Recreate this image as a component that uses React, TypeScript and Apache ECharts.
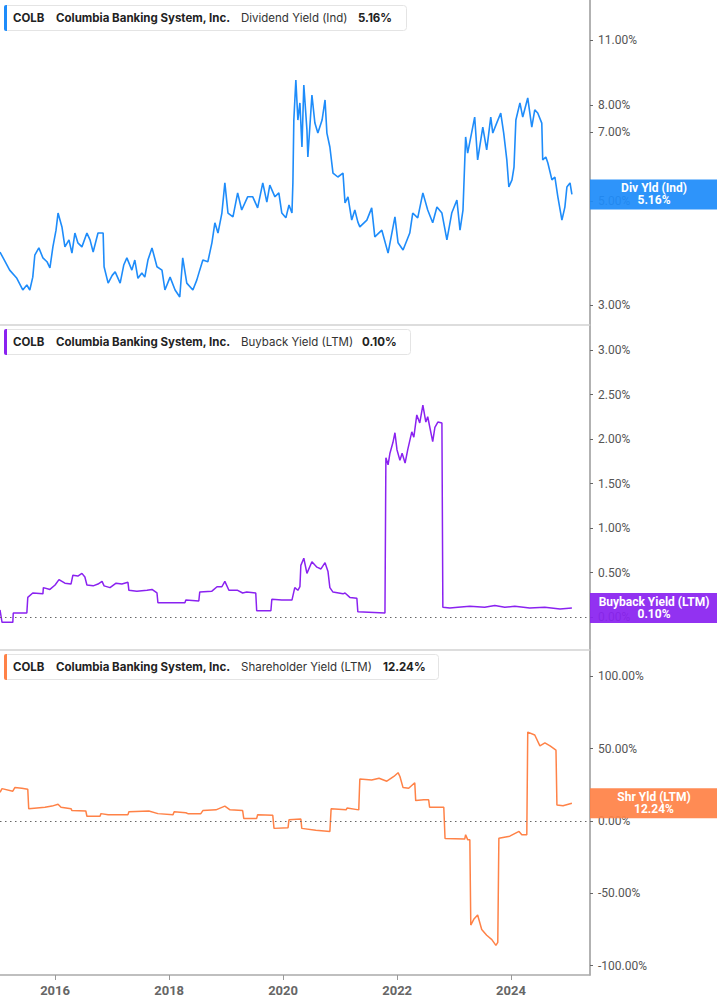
import React, { useEffect, useRef } from 'react';
import * as echarts from 'echarts';

const X_MIN = '2015-01-13';
const X_MAX = '2025-05-21';
const yearTicks = ['2016-01-01', '2018-01-01', '2020-01-01', '2022-01-01', '2024-01-01'];
const divTicks = [3, 5, 7, 8, 11];
const bbTicks = [0, 0.5, 1, 1.5, 2, 2.5, 3];
const shTicks = [-100, -50, 0, 50, 100];

const dividendYield: [string, number][] = [
  ['2015-01-13',3.89],['2015-02-15',3.71],['2015-03-16',3.56],['2015-05-01',3.42],['2015-06-08',3.23],['2015-07-04',3.31],['2015-07-23',3.23],['2015-08-11',3.44],['2015-08-24',3.83],['2015-09-19',3.97],['2015-10-15',3.78],['2015-11-10',3.71],['2015-11-29',3.60],['2015-12-18',3.99],['2016-01-07',4.33],['2016-01-20',4.71],['2016-02-14',4.40],['2016-03-04',3.99],['2016-03-30',4.13],['2016-04-18',3.87],['2016-05-07',4.27],['2016-05-26',4.07],['2016-06-21',3.99],['2016-07-23',4.27],['2016-08-12',4.13],['2016-09-01',3.89],['2016-10-02',4.27],['2016-11-04',4.27],['2016-11-10',3.62],['2016-12-06',3.34],['2017-01-01',3.47],['2017-01-20',3.53],['2017-02-21',3.34],['2017-03-16',3.65],['2017-04-05',3.78],['2017-05-07',3.56],['2017-05-26',3.74],['2017-06-15',3.42],['2017-07-10',3.51],['2017-07-29',3.44],['2017-08-18',3.74],['2017-09-13',3.97],['2017-10-15',3.62],['2017-11-16',3.56],['2017-12-05',3.23],['2018-01-07',3.44],['2018-02-08',3.23],['2018-03-10',3.12],['2018-03-29',3.78],['2018-04-24',3.34],['2018-06-02',3.23],['2018-06-27',3.39],['2018-07-16',3.56],['2018-08-05',3.74],['2018-09-06',3.71],['2018-10-02',4.07],['2018-10-21',4.49],['2018-11-10',4.27],['2018-12-05',4.71],['2018-12-24',5.46],['2019-01-13',4.71],['2019-02-14',4.62],['2019-03-16',5.20],['2019-04-11',4.78],['2019-05-19',5.10],['2019-06-21',5.10],['2019-07-22',4.83],['2019-08-24',5.46],['2019-09-19',4.97],['2019-10-08',5.40],['2019-11-10',5.10],['2019-12-05',5.20],['2019-12-24',4.71],['2020-01-19',4.60],['2020-02-08',4.90],['2020-02-27',4.71],['2020-03-04',5.46],['2020-03-10',7.43],['2020-03-23',9.04],['2020-04-05',7.43],['2020-04-18',8.08],['2020-05-01',6.51],['2020-05-13',8.82],['2020-06-02',7.08],['2020-06-08',6.20],['2020-07-04',8.40],['2020-07-23',7.32],['2020-08-11',6.97],['2020-09-07',7.43],['2020-09-26',8.20],['2020-10-08',6.97],['2020-10-27',6.51],['2020-11-16',5.73],['2020-12-17',5.62],['2021-01-19',5.73],['2021-02-01',4.95],['2021-02-20',5.10],['2021-03-16',4.55],['2021-04-05',4.78],['2021-04-24',4.51],['2021-05-07',4.40],['2021-06-21',4.55],['2021-07-22',4.83],['2021-08-11',4.19],['2021-09-25',4.33],['2021-11-04',3.87],['2021-12-18',4.62],['2022-01-07',4.07],['2022-02-08',3.93],['2022-03-23',4.27],['2022-04-11',4.71],['2022-05-13',4.60],['2022-06-15',5.20],['2022-07-16',4.78],['2022-08-17',4.49],['2022-09-13',4.85],['2022-10-15',4.71],['2022-11-16',4.13],['2022-12-17',4.71],['2023-01-19',5.02],['2023-02-08',4.33],['2023-02-27',4.78],['2023-03-16',6.84],['2023-03-29',6.32],['2023-05-13',7.54],['2023-06-01',6.11],['2023-07-04',7.18],['2023-07-29',6.42],['2023-08-24',7.54],['2023-09-06',6.97],['2023-10-01',7.32],['2023-10-27',7.69],['2023-11-15',6.97],['2023-12-05',6.11],['2023-12-18',5.35],['2024-01-07',5.54],['2024-01-20',5.90],['2024-02-01',7.43],['2024-02-27',8.08],['2024-03-16',7.54],['2024-04-17',8.28],['2024-05-13',7.18],['2024-06-01',7.81],['2024-06-20',7.69],['2024-07-16',7.32],['2024-07-22',6.11],['2024-08-11',6.20],['2024-08-24',6.02],['2024-09-19',5.54],['2024-10-08',5.62],['2024-10-27',5.10],['2024-11-22',4.55],['2024-12-11',4.85],['2024-12-24',5.35],['2025-01-13',5.46],['2025-01-25',5.16]
];

const buybackYield: [string, number][] = [
  ['2015-01-13',0.08],['2015-01-26',-0.06],['2015-04-05',-0.06],['2015-04-08',0.045],['2015-07-04',0.045],['2015-07-10',0.22],['2015-08-11',0.27],['2015-10-15',0.26],['2015-10-18',0.33],['2015-11-29',0.31],['2016-01-01',0.36],['2016-01-26',0.42],['2016-03-04',0.38],['2016-04-12',0.37],['2016-04-24',0.47],['2016-05-26',0.46],['2016-06-21',0.49],['2016-07-10',0.45],['2016-07-23',0.36],['2016-09-01',0.35],['2016-10-02',0.37],['2016-10-28',0.40],['2016-11-10',0.35],['2016-12-18',0.33],['2017-01-26',0.38],['2017-03-04',0.37],['2017-04-12',0.39],['2017-04-18',0.30],['2017-06-08',0.29],['2017-08-12',0.30],['2017-09-13',0.31],['2017-10-15',0.27],['2017-10-21',0.16],['2018-01-07',0.16],['2018-04-12',0.16],['2018-04-18',0.19],['2018-07-10',0.18],['2018-07-16',0.28],['2018-10-02',0.29],['2018-11-04',0.34],['2018-12-05',0.34],['2018-12-24',0.40],['2019-01-19',0.30],['2019-03-16',0.30],['2019-04-17',0.27],['2019-05-13',0.28],['2019-07-10',0.27],['2019-07-16',0.07],['2019-10-15',0.07],['2019-10-21',0.20],['2019-12-24',0.19],['2020-02-27',0.19],['2020-03-16',0.33],['2020-04-05',0.30],['2020-04-18',0.34],['2020-04-24',0.58],['2020-05-13',0.66],['2020-06-02',0.49],['2020-07-04',0.62],['2020-08-05',0.56],['2020-08-31',0.54],['2020-09-26',0.61],['2020-10-15',0.51],['2020-10-27',0.33],['2020-11-16',0.28],['2021-01-19',0.26],['2021-02-01',0.27],['2021-03-04',0.22],['2021-04-18',0.21],['2021-04-24',0.06],['2021-10-15',0.045],['2021-10-21',1.79],['2021-11-04',1.71],['2021-11-16',1.84],['2021-12-05',1.96],['2021-12-18',2.07],['2021-12-31',1.88],['2022-01-19',1.76],['2022-02-02',1.84],['2022-02-21',1.73],['2022-03-10',1.88],['2022-04-05',2.08],['2022-04-18',2.02],['2022-05-07',2.27],['2022-05-26',2.18],['2022-06-15',2.38],['2022-07-04',2.19],['2022-07-16',2.25],['2022-08-17',1.97],['2022-08-31',2.13],['2022-09-19',2.19],['2022-10-15',2.18],['2022-10-21',0.11],['2022-12-05',0.10],['2023-01-26',0.11],['2023-04-12',0.12],['2023-07-16',0.11],['2023-09-19',0.13],['2023-11-22',0.11],['2024-01-25',0.12],['2024-04-30',0.10],['2024-08-04',0.11],['2024-11-10',0.09],['2025-01-25',0.10]
];

const shareholderYield: [string, number][] = [
  ['2015-01-13',19.8],['2015-01-26',22.4],['2015-04-05',20.6],['2015-04-18',23.1],['2015-06-02',22.6],['2015-07-10',21.9],['2015-07-16',8.5],['2015-09-07',9.0],['2015-10-28',9.5],['2015-12-12',10.3],['2016-01-20',11.6],['2016-02-08',9.5],['2016-04-12',8.5],['2016-04-18',7.2],['2016-07-16',6.9],['2016-07-23',3.3],['2016-10-15',3.3],['2016-10-21',5.1],['2016-12-06',4.4],['2017-04-12',4.4],['2017-04-18',6.4],['2017-08-24',6.9],['2017-10-21',5.1],['2018-01-26',4.4],['2018-02-02',6.4],['2018-04-18',5.7],['2018-05-01',5.1],['2018-07-23',5.1],['2018-08-05',7.2],['2018-10-28',7.7],['2018-12-24',10.3],['2019-01-26',7.7],['2019-04-17',7.2],['2019-04-24',1.8],['2019-07-16',1.8],['2019-07-22',4.4],['2019-10-27',3.9],['2019-11-04',-5.1],['2020-02-02',-4.6],['2020-02-08',0.8],['2020-04-24',1.3],['2020-04-30',-5.1],['2020-07-29',-6.4],['2020-10-27',-7.2],['2020-11-04',8.5],['2021-02-08',7.7],['2021-02-14',9.0],['2021-04-30',7.7],['2021-05-07',29.0],['2021-07-22',28.3],['2021-09-07',29.6],['2021-10-27',27.5],['2021-12-11',30.8],['2022-01-07',33.4],['2022-01-19',30.8],['2022-02-08',23.1],['2022-03-16',22.6],['2022-04-24',26.5],['2022-04-30',14.1],['2022-06-21',14.7],['2022-07-22',14.7],['2022-07-28',9.5],['2022-10-27',9.5],['2022-11-04',-12.1],['2023-03-10',-12.5],['2023-03-16',-9.5],['2023-03-29',-12.9],['2023-04-12',-12.9],['2023-04-18',-72],['2023-05-07',-68],['2023-06-01',-65],['2023-06-27',-75],['2023-07-29',-79],['2023-08-31',-82],['2023-09-26',-86],['2023-10-08',-84],['2023-10-15',-12],['2023-12-24',-10.5],['2024-02-21',-7.2],['2024-03-10',-9.5],['2024-04-11',-9.5],['2024-04-17',61.5],['2024-06-01',59.5],['2024-07-04',52],['2024-08-05',54],['2024-09-07',52],['2024-10-15',49],['2024-10-21',11],['2024-11-29',10.5],['2025-01-25',12.24]
];

const BLUE = '#1E8CFA';
const PURPLE = '#8A22F0';
const ORANGE = '#FF8247';

const ts = (d: string) => Date.parse(d);

export default function App() {
  const ref = useRef<HTMLDivElement>(null);
  useEffect(() => {
    document.body.style.margin = '0';
    if (!ref.current) return;
    const chart = echarts.init(ref.current, null, { renderer: 'svg' });
    const grids = [
      { left: 0, width: 590, top: 0, height: 325 },
      { left: 0, width: 590, top: 325, height: 325 },
      { left: 0, width: 590, top: 650, height: 325 },
    ];
    const yearTickValues = yearTicks.map(ts);
    const xAxis = [0, 1, 2].map((i) => ({
      type: 'value',
      gridIndex: i,
      min: ts(X_MIN),
      max: ts(X_MAX),
      axisLine: { show: true, onZero: false, lineStyle: { color: i < 2 ? '#d2d2d2' : '#aaaaaa', width: 1.5 } },
      axisTick: { show: i === 2, customValues: yearTickValues, length: 5, lineStyle: { color: '#999' } },
      axisLabel: {
        show: i === 2,
        customValues: yearTickValues,
        formatter: (v: number) => String(new Date(v).getUTCFullYear()),
        color: '#666',
        fontWeight: 'bold',
        fontSize: 13,
        fontFamily: 'Roboto',
        margin: 9,
      },
      splitLine: { show: false },
    }));
    const yCommon = {
      position: 'right',
      axisLine: { show: true, onZero: false, lineStyle: { color: '#999', width: 1.5 } },
      splitLine: { show: false },
    };
    const labelCommon = { color: '#555', fontSize: 12, fontFamily: 'Roboto', margin: 8 };
    const tickCommon = { show: true, length: 3, lineStyle: { color: '#666' } };
    const divTickValues = divTicks.map((v) => Math.log(v));
    const yAxis = [
      {
        ...yCommon, type: 'value', gridIndex: 0,
        min: Math.log(11) - 285 / 204, max: Math.log(11) + 40 / 204,
        axisTick: { ...tickCommon, customValues: divTickValues },
        axisLabel: { ...labelCommon, customValues: divTickValues, formatter: (v: number) => Math.exp(v).toFixed(2) + '%' },
      },
      {
        ...yCommon, type: 'value', gridIndex: 1, min: -33 / 89, max: 292 / 89,
        axisTick: { ...tickCommon, customValues: bbTicks },
        axisLabel: { ...labelCommon, customValues: bbTicks, formatter: (v: number) => v.toFixed(2) + '%' },
      },
      {
        ...yCommon, type: 'value', gridIndex: 2, min: -154 / 1.446, max: 171 / 1.446,
        axisTick: { ...tickCommon, customValues: shTicks },
        axisLabel: { ...labelCommon, customValues: shTicks, formatter: (v: number) => v.toFixed(2) + '%' },
      },
    ];

    const zeroLine = {
      silent: true,
      symbol: 'none',
      label: { show: false },
      lineStyle: { color: '#666', type: [1.5, 3.5], width: 1 },
      data: [{ yAxis: 0 }],
    };
    const option: any = {
      animation: false,
      grid: grids,
      xAxis,
      yAxis,
      series: [
        {
          type: 'line', xAxisIndex: 0, yAxisIndex: 0, symbol: 'none',
          data: dividendYield.map(([d, v]) => [ts(d), Math.log(v)]),
          lineStyle: { color: BLUE, width: 1.6 }, itemStyle: { color: BLUE },
        },
        {
          type: 'line', xAxisIndex: 1, yAxisIndex: 1, symbol: 'none',
          data: buybackYield.map(([d, v]) => [ts(d), v]),
          lineStyle: { color: PURPLE, width: 1.5 }, itemStyle: { color: PURPLE },
          markLine: zeroLine,
        },
        {
          type: 'line', xAxisIndex: 2, yAxisIndex: 2, symbol: 'none',
          data: shareholderYield.map(([d, v]) => [ts(d), v]),
          lineStyle: { color: ORANGE, width: 1.5 }, itemStyle: { color: ORANGE },
          markLine: zeroLine,
        },
      ],
    };
    chart.setOption(option);

    const F_BOLD = 'bold 11.5px Inter';
    const F_REG = '11.5px Inter';
    const header = (y0: number, w: number, color: string, metric: string, value: string, valueX: number) => [
      { type: 'rect', z: 50, shape: { x: 4.5, y: y0 + 0.5, width: w, height: 25, r: 3 }, style: { fill: '#fff', stroke: '#e4e4e4', lineWidth: 1 } },
      { type: 'rect', z: 51, shape: { x: 4, y: y0, width: 3, height: 26, r: [2, 0, 0, 2] }, style: { fill: color } },
      { type: 'text', z: 52, x: 13, y: y0 + 13, style: { text: 'COLB', fill: '#222', font: F_BOLD, verticalAlign: 'middle' } },
      { type: 'text', z: 52, x: 56, y: y0 + 13, style: { text: 'Columbia Banking System, Inc.', fill: '#222', font: F_BOLD, verticalAlign: 'middle' } },
      { type: 'text', z: 52, x: 241, y: y0 + 13, style: { text: metric, fill: '#333', font: F_REG, verticalAlign: 'middle' } },
      { type: 'text', z: 52, x: valueX, y: y0 + 13, style: { text: value, fill: '#222', font: F_BOLD, verticalAlign: 'middle' } },
    ];
    const endBox = (i: number, pt: [string, number], yv: number, color: string, name: string) => {
      const p = chart.convertToPixel({ xAxisIndex: i, yAxisIndex: i }, [ts(pt[0]), yv]) as number[];
      const cy = p[1];
      return [
        { type: 'rect', z: 60, shape: { x: 590, y: cy - 15, width: 127, height: 30 }, style: { fill: color, opacity: 0.93 } },
        { type: 'text', z: 61, x: 654, y: cy - 6, style: { text: name, fill: '#fff', font: 'bold 12px Roboto', align: 'center', verticalAlign: 'middle' } },
        { type: 'text', z: 61, x: 654, y: cy + 6, style: { text: pt[1].toFixed(2) + '%', fill: '#fff', font: 'bold 12px Roboto', align: 'center', verticalAlign: 'middle' } },
      ];
    };
    const lastDiv = dividendYield[dividendYield.length - 1];
    const lastBb = buybackYield[buybackYield.length - 1];
    const lastSh = shareholderYield[shareholderYield.length - 1];
    chart.setOption({
      graphic: [
        ...header(5, 402, BLUE, 'Dividend Yield (Ind)', lastDiv[1].toFixed(2) + '%', 358),
        ...header(329, 406, PURPLE, 'Buyback Yield (LTM)', lastBb[1].toFixed(2) + '%', 362),
        ...header(654, 434, ORANGE, 'Shareholder Yield (LTM)', lastSh[1].toFixed(2) + '%', 383),
        ...endBox(0, lastDiv, Math.log(lastDiv[1]), BLUE, 'Div Yld (Ind)'),
        ...endBox(1, lastBb, lastBb[1], PURPLE, 'Buyback Yield (LTM)'),
        ...endBox(2, lastSh, lastSh[1], ORANGE, 'Shr Yld (LTM)'),
      ],
    });
    return () => chart.dispose();
  }, []);
  return <div ref={ref} style={{ width: 717, height: 1005 }} />;
}
